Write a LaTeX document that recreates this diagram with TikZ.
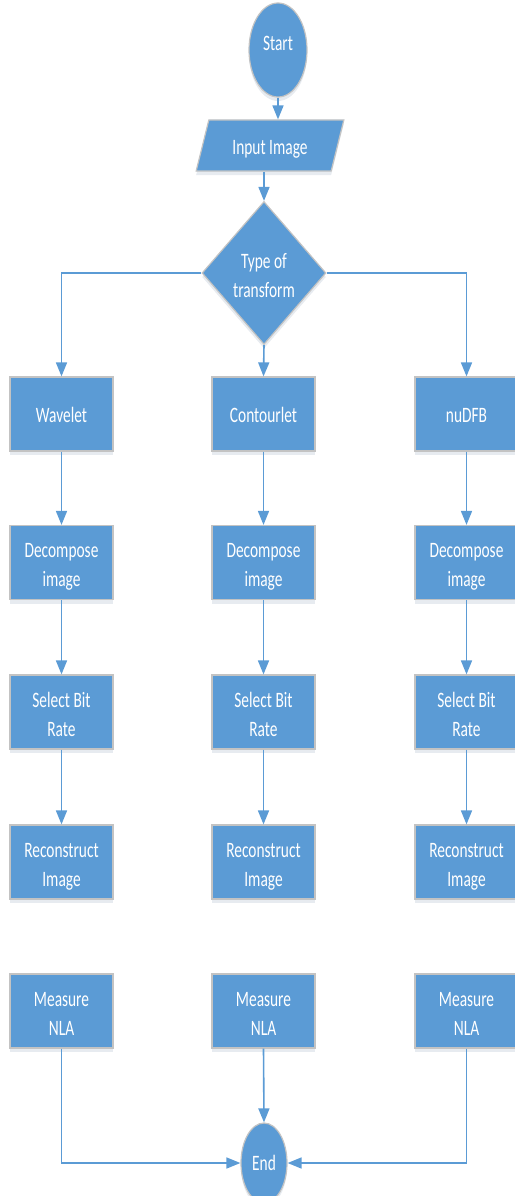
\documentclass[tikz,border=0pt]{standalone}
\usepackage{fontspec}
\setmainfont{Carlito}[FakeStretch=0.7]
\usetikzlibrary{shapes.geometric,arrows.meta,shadows}
\definecolor{flowblue}{HTML}{5B9BD5}
\definecolor{edgegray}{HTML}{C3C3C3}
% centred block of lines, shifted vertically without changing its box size
\newcommand\shapetext[2][-4pt]{\raisebox{#1}[\height][\depth]{\begin{tabular}{@{}c@{}}#2\end{tabular}}}
\tikzset{
  shapebase/.style={fill=flowblue, draw=edgegray, line width=1.2pt, text=white,
    font=\fontsize{22}{29}\selectfont, align=center, inner sep=0pt,
    drop shadow={shadow xshift=0pt, shadow yshift=-4pt, opacity=0.12, fill=flowblue!60!black}},
  procbox/.style={shapebase, rectangle, minimum width=103pt, minimum height=74pt},
  terminal/.style={shapebase, ellipse},
  decision/.style={shapebase, diamond, minimum width=124pt, minimum height=143pt},
  iobox/.style={shapebase, trapezium, trapezium left angle=75, trapezium right angle=105,
    trapezium stretches=true, minimum width=148pt, minimum height=51pt},
  flow/.style={draw=flowblue, line width=1.6pt, -{Triangle[width=11pt,length=14pt]}}
}
\begin{document}
\begin{tikzpicture}[x=1pt,y=-1pt]
\useasboundingbox (0,0) rectangle (514,1196);

% top of the chart
\node[terminal, minimum width=58pt, minimum height=94pt] (start) at (278,50) {\shapetext[5pt]{Start}};
\node[iobox] (input) at (270,145.5) {\shapetext[-3pt]{Input Image}};
\node[decision] (type) at (264,273) {\shapetext{Type of\\transform}};

% three branches
\foreach \c/\x/\name in {w/61.5/Wavelet, c/263.5/Contourlet, n/466.5/nuDFB} {
  \node[procbox] (\c1) at (\x,414) {\shapetext[-3pt]{\name}};
  \node[procbox] (\c2) at (\x,562.5) {\shapetext{Decompose\\image}};
  \node[procbox] (\c3) at (\x,712) {\shapetext{Select Bit\\Rate}};
  \node[procbox] (\c4) at (\x,862) {\shapetext{Reconstruct\\Image}};
  \node[procbox] (\c5) at (\x,1011) {\shapetext{Measure\\NLA}};
}

\node[terminal, minimum width=46pt, minimum height=80pt] (end) at (264,1163) {End};

% connectors
\draw[flow] (start.south) -- (start.south |- input.north);
\draw[flow] (type.north |- input.south) -- (type.north);
\draw[flow] (type.west) -| (w1.north);
\draw[flow] (type.south) -- (c1.north);
\draw[flow] (type.east) -| (n1.north);
\foreach \c in {w,c,n} {
  \draw[flow] (\c1) -- (\c2);
  \draw[flow] (\c2) -- (\c3);
  \draw[flow] (\c3) -- (\c4);
}
\draw[flow] (w5.south) |- (end.west);
\draw[flow] (c5.south) -- (end.north);
\draw[flow] (n5.south) |- (end.east);
\end{tikzpicture}
\end{document}
